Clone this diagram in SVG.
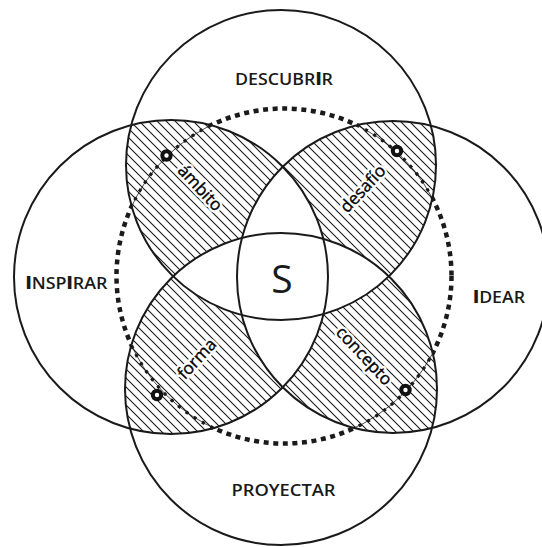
<svg xmlns="http://www.w3.org/2000/svg" width="542" height="547" viewBox="0 0 542 547">
<style>
.ring{fill:none;stroke:#1a1a1a;stroke-width:2}
.lbl{font-family:"Open Sans","Noto Sans","Liberation Sans",sans-serif;font-size:17px;font-weight:600;fill:#1a1a1a;text-anchor:middle}
.lbl .b{font-weight:800}
.sub{font-family:"Open Sans","Noto Sans","Liberation Sans",sans-serif;font-size:17px;font-weight:400;text-anchor:middle}
.halo{fill:#fff;stroke:#fff;stroke-width:5;stroke-linejoin:round}
.ink{fill:#000;stroke:#000;stroke-width:0.35}
.big{font-family:"Open Sans","Noto Sans","Liberation Sans",sans-serif;font-size:39px;font-weight:400;fill:#1a1a1a;text-anchor:middle}
.mark{fill:#fff;stroke:#111;stroke-width:4}
</style>
<defs>
<pattern id="hatch" patternUnits="userSpaceOnUse" width="9" height="9">
<path d="M0,0 L9,9 M-1,8 L1,10 M8,-1 L10,1" stroke="#1a1a1a" stroke-width="1.1" fill="none"/>
</pattern>
<clipPath id="cT"><circle cx="281" cy="165" r="155"/></clipPath>
<clipPath id="cB"><circle cx="281" cy="389" r="156"/></clipPath>
<clipPath id="cL"><circle cx="171" cy="277" r="157"/></clipPath>
<clipPath id="cR"><circle cx="393" cy="277" r="156"/></clipPath>
<mask id="mTL" maskUnits="userSpaceOnUse" x="0" y="0" width="542" height="547">
<rect width="542" height="547" fill="#000"/>
<circle cx="281" cy="165" r="155" fill="#fff" clip-path="url(#cL)"/>
<circle cx="281" cy="389" r="156" fill="#000"/>
<circle cx="393" cy="277" r="156" fill="#000"/>
</mask>
<mask id="mTR" maskUnits="userSpaceOnUse" x="0" y="0" width="542" height="547">
<rect width="542" height="547" fill="#000"/>
<circle cx="281" cy="165" r="155" fill="#fff" clip-path="url(#cR)"/>
<circle cx="281" cy="389" r="156" fill="#000"/>
<circle cx="171" cy="277" r="157" fill="#000"/>
</mask>
<mask id="mBL" maskUnits="userSpaceOnUse" x="0" y="0" width="542" height="547">
<rect width="542" height="547" fill="#000"/>
<circle cx="281" cy="389" r="156" fill="#fff" clip-path="url(#cL)"/>
<circle cx="281" cy="165" r="155" fill="#000"/>
<circle cx="393" cy="277" r="156" fill="#000"/>
</mask>
<mask id="mBR" maskUnits="userSpaceOnUse" x="0" y="0" width="542" height="547">
<rect width="542" height="547" fill="#000"/>
<circle cx="281" cy="389" r="156" fill="#fff" clip-path="url(#cR)"/>
<circle cx="281" cy="165" r="155" fill="#000"/>
<circle cx="171" cy="277" r="157" fill="#000"/>
</mask>
<mask id="mIn" maskUnits="userSpaceOnUse" x="0" y="0" width="542" height="547">
<rect width="542" height="547" fill="#000"/>
<rect width="542" height="547" fill="#fff" mask="url(#mTL)"/>
<rect width="542" height="547" fill="#fff" mask="url(#mTR)"/>
<rect width="542" height="547" fill="#fff" mask="url(#mBL)"/>
<rect width="542" height="547" fill="#fff" mask="url(#mBR)"/>
</mask>
<mask id="mOut" maskUnits="userSpaceOnUse" x="0" y="0" width="542" height="547">
<rect width="542" height="547" fill="#fff"/>
<rect width="542" height="547" fill="#000" mask="url(#mTL)"/>
<rect width="542" height="547" fill="#000" mask="url(#mTR)"/>
<rect width="542" height="547" fill="#000" mask="url(#mBL)"/>
<rect width="542" height="547" fill="#000" mask="url(#mBR)"/>
</mask>
</defs>
<rect width="542" height="547" fill="#fff"/>

<g id="hatched-regions">
<rect width="542" height="547" fill="url(#hatch)" mask="url(#mTL)"/>
<rect width="542" height="547" fill="url(#hatch)" mask="url(#mTR)"/>
<rect width="542" height="547" fill="url(#hatch)" mask="url(#mBL)"/>
<rect width="542" height="547" fill="url(#hatch)" mask="url(#mBR)"/>
</g>

<g id="dotted-cycle">
<circle cx="284" cy="276" r="167.5" fill="none" stroke="#1a1a1a" stroke-width="4.5" stroke-dasharray="5 4.6" mask="url(#mOut)"/>
<g mask="url(#mIn)">
<circle cx="284" cy="276" r="167.5" fill="none" stroke="#1a1a1a" stroke-width="0.8"/>
<circle cx="284" cy="276" r="167.5" fill="none" stroke="#1a1a1a" stroke-width="3.2" stroke-dasharray="3.2 6.4"/>
</g>
</g>

<g id="circle-descubrir">
<circle class="ring" cx="281" cy="165" r="155"/>
<text class="lbl" x="284" y="85" textLength="98" lengthAdjust="spacingAndGlyphs">DESCUBR<tspan class="b">I</tspan>R</text>
</g>
<g id="circle-inspirar">
<circle class="ring" cx="171" cy="277" r="157"/>
<text class="lbl" x="66.5" y="289" textLength="82" lengthAdjust="spacingAndGlyphs"><tspan class="b">I</tspan>NSP<tspan class="b">I</tspan>RAR</text>
</g>
<g id="circle-idear">
<circle class="ring" cx="393" cy="277" r="156"/>
<text class="lbl" x="499" y="302.5" textLength="52" lengthAdjust="spacingAndGlyphs"><tspan class="b">I</tspan>DEAR</text>
</g>
<g id="circle-proyectar">
<circle class="ring" cx="281" cy="389" r="156"/>
<text class="lbl" x="283.5" y="496" textLength="104" lengthAdjust="spacingAndGlyphs">PROYECTAR</text>
</g>

<g id="center-s">
<text class="big" x="282" y="293">S</text>
</g>

<g id="ambito" transform="translate(200,188) rotate(47)">
<text class="sub halo" y="5.5">ámbito</text>
<text class="sub ink" y="5.5">ámbito</text>
</g>
<circle class="mark" cx="166.5" cy="155.5" r="4.2"/>
<g id="desafio" transform="translate(363,189) rotate(-47)">
<text class="sub halo" y="5.5">desafío</text>
<text class="sub ink" y="5.5">desafío</text>
</g>
<circle class="mark" cx="397" cy="151" r="4.2"/>
<g id="forma" transform="translate(197,359) rotate(-47)">
<text class="sub halo" y="5.5">forma</text>
<text class="sub ink" y="5.5">forma</text>
</g>
<circle class="mark" cx="157" cy="395" r="4.2"/>
<g id="concepto" transform="translate(364,356) rotate(47)">
<text class="sub halo" y="5.5">concepto</text>
<text class="sub ink" y="5.5">concepto</text>
</g>
<circle class="mark" cx="405.5" cy="390" r="4.2"/>
</svg>
